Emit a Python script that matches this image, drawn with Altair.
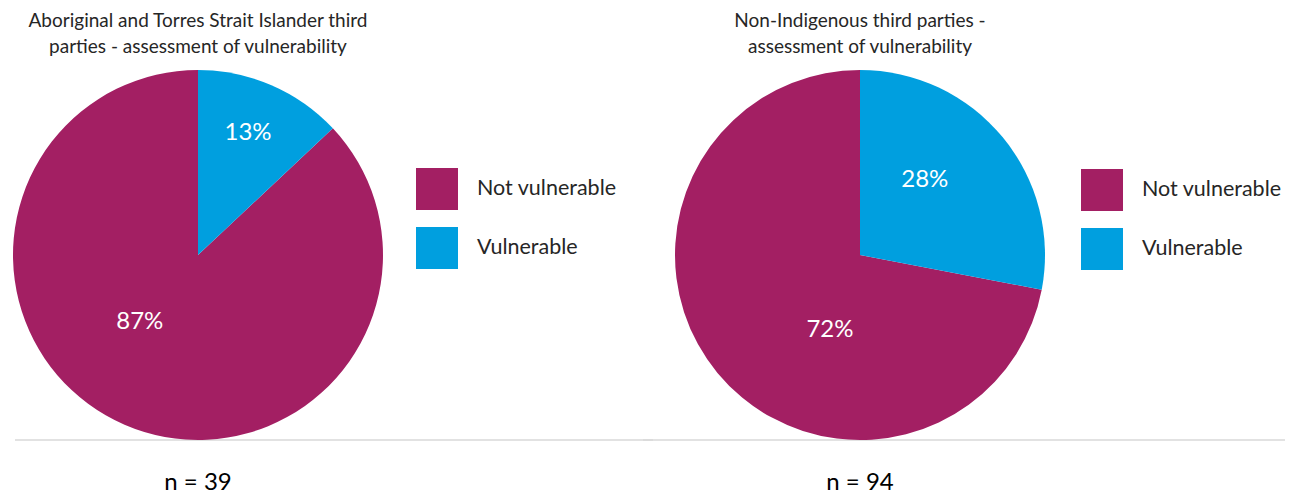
import math
import altair as alt
import pandas as pd

categories = ["Not vulnerable", "Vulnerable"]
colors = ["#A31F63", "#009FDF"]
stack_order = [1, 0]  # Vulnerable starts at 12 o'clock
left_values = [87, 13]
right_values = [72, 28]
left_title = "Aboriginal and Torres Strait Islander third\nparties - assessment of vulnerability"
right_title = "Non-Indigenous third parties -\nassessment of vulnerability"
left_n = "n = 39"
right_n = "n = 94"

FONT = "Lato"
W, H = 640, 481
CY = 247
R = 185
theta_scale = alt.Scale(domain=[0, 100], range=[0, 2 * math.pi])


def panel(values, title, n_text, cx, lx, ly, tweaks, rule):
    df = pd.DataFrame({"category": categories, "value": values, "order": stack_order})
    df["label"] = [f"{v}%" for v in values]
    base = alt.Chart(df).transform_stack(
        stack="value", as_=["v0", "v1"], groupby=[],
        sort=[alt.SortField("order", order="ascending")]
    ).transform_calculate(mid="(datum.v0 + datum.v1) / 2")

    tdf = pd.DataFrame({"title": [title], "n": [n_text]})
    layers = [
        alt.Chart(tdf).mark_rule(color="#d9d9d9", strokeWidth=1.5).encode(
            x=alt.value(rule[0]), x2=alt.value(rule[1]), y=alt.value(432)
        )
    ]

    arc = base.mark_arc(outerRadius=R).encode(
        theta=alt.Theta("v0:Q", scale=theta_scale, stack=None),
        theta2="v1:Q",
        color=alt.Color(
            "category:N",
            scale=alt.Scale(domain=categories, range=colors),
            legend=alt.Legend(
                title=None, orient="none", legendX=lx, legendY=ly,
                symbolType="square", symbolSize=1764, symbolStrokeWidth=0,
                symbolOpacity=1, labelFontSize=21.5, labelFont=FONT,
                labelColor="#262626", rowPadding=17, labelOffset=19, padding=0,
            ),
        ),
        x=alt.value(cx), y=alt.value(CY),
    )
    layers.append(arc)

    for cat, (dth, rad) in tweaks.items():
        layers.append(
            base.transform_filter(alt.datum.category == cat).mark_text(
                radius=rad, thetaOffset=dth, fontSize=24, color="white", font=FONT
            ).encode(
                theta=alt.Theta("mid:Q", scale=theta_scale, stack=None),
                text="label:N",
                x=alt.value(cx), y=alt.value(CY),
            )
        )

    layers.append(
        alt.Chart(tdf).mark_text(
            lineBreak="\n", lineHeight=26, fontSize=19, font=FONT, color="#262626",
            baseline="top", align="center",
        ).encode(text="title:N", x=alt.value(cx), y=alt.value(4))
    )
    layers.append(
        alt.Chart(tdf).mark_text(
            fontSize=24, font=FONT, color="black", baseline="middle", align="center",
        ).encode(text="n:N", x=alt.value(cx), y=alt.value(475))
    )
    return alt.layer(*layers).properties(width=W, height=H)


left = panel(left_values, left_title, left_n, 190, 408, 160,
             {"Vulnerable": (-0.02, 132), "Not vulnerable": (0.305, 89)}, rule=(7, 645))
right = panel(right_values, right_title, right_n, 212, 433, 161,
              {"Vulnerable": (-0.166, 99), "Not vulnerable": (-0.5, 81)}, rule=(-5, 637))

chart = alt.hconcat(left, right, spacing=0, bounds="flush").resolve_scale(
    color="independent"
).properties(
    padding=0,
).configure_view(stroke=None)

chart.save("out.html", embed_options={"renderer": "svg", "actions": False})
